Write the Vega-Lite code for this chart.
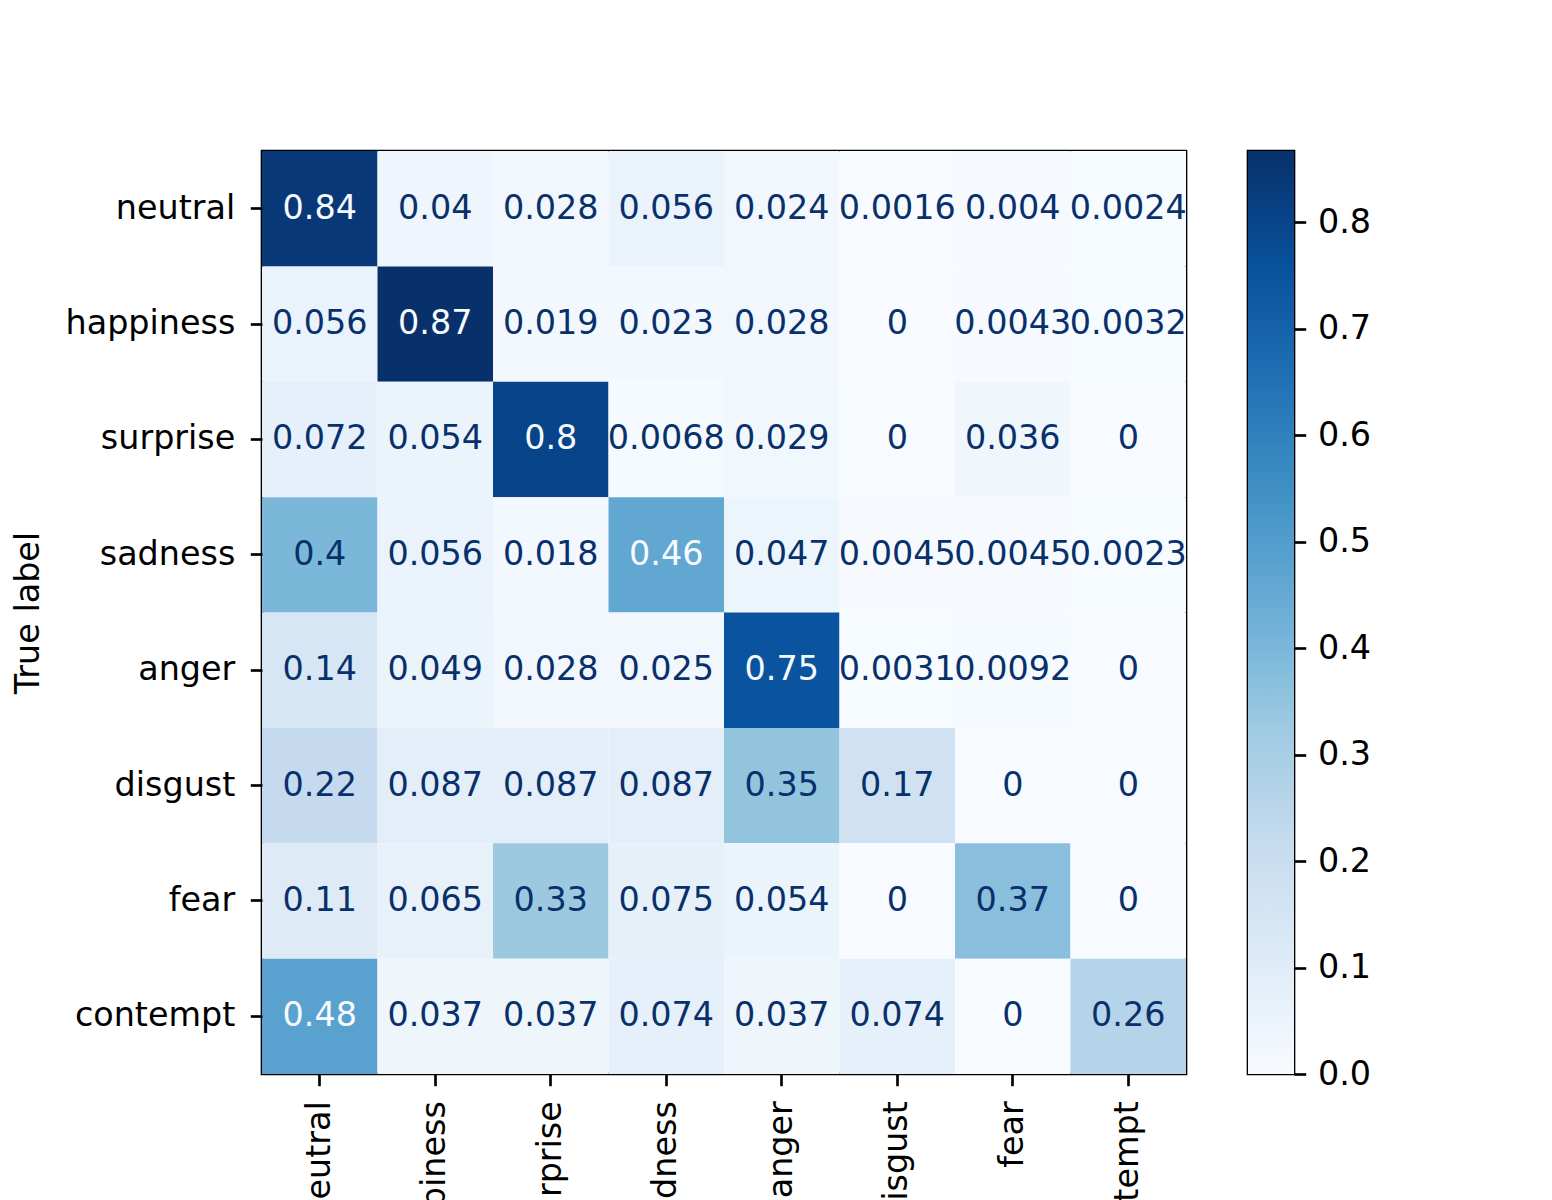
{
  "$schema": "https://vega.github.io/schema/vega-lite/v6.json",
  "background": "white",
  "padding": {"left": 9, "top": 149, "right": 0, "bottom": 0},
  "spacing": 57,
  "config": {
    "font": "DejaVu Sans",
    "view": {"stroke": "black", "strokeWidth": 2.67},
    "axis": {
      "labelFont": "DejaVu Sans",
      "titleFont": "DejaVu Sans",
      "labelFontSize": 33.4,
      "titleFontSize": 33.4,
      "titleFontWeight": "normal",
      "labelColor": "black",
      "titleColor": "black",
      "tickColor": "black",
      "tickWidth": 2.67,
      "tickSize": 11.7,
      "domain": false,
      "grid": false,
      "labelOverlap": false,
      "labelBound": false,
      "labelFlush": false
    }
  },
  "hconcat": [
    {
      "width": 924,
      "height": 923,
      "data": {
        "values": [
          {"t": "neutral", "p": "neutral", "v": 0.84},
          {"t": "neutral", "p": "happiness", "v": 0.04},
          {"t": "neutral", "p": "surprise", "v": 0.028},
          {"t": "neutral", "p": "sadness", "v": 0.056},
          {"t": "neutral", "p": "anger", "v": 0.024},
          {"t": "neutral", "p": "disgust", "v": 0.0016},
          {"t": "neutral", "p": "fear", "v": 0.004},
          {"t": "neutral", "p": "contempt", "v": 0.0024},
          {"t": "happiness", "p": "neutral", "v": 0.056},
          {"t": "happiness", "p": "happiness", "v": 0.867},
          {"t": "happiness", "p": "surprise", "v": 0.019},
          {"t": "happiness", "p": "sadness", "v": 0.023},
          {"t": "happiness", "p": "anger", "v": 0.028},
          {"t": "happiness", "p": "disgust", "v": 0},
          {"t": "happiness", "p": "fear", "v": 0.0043},
          {"t": "happiness", "p": "contempt", "v": 0.0032},
          {"t": "surprise", "p": "neutral", "v": 0.072},
          {"t": "surprise", "p": "happiness", "v": 0.054},
          {"t": "surprise", "p": "surprise", "v": 0.8},
          {"t": "surprise", "p": "sadness", "v": 0.0068},
          {"t": "surprise", "p": "anger", "v": 0.029},
          {"t": "surprise", "p": "disgust", "v": 0},
          {"t": "surprise", "p": "fear", "v": 0.036},
          {"t": "surprise", "p": "contempt", "v": 0},
          {"t": "sadness", "p": "neutral", "v": 0.4},
          {"t": "sadness", "p": "happiness", "v": 0.056},
          {"t": "sadness", "p": "surprise", "v": 0.018},
          {"t": "sadness", "p": "sadness", "v": 0.46},
          {"t": "sadness", "p": "anger", "v": 0.047},
          {"t": "sadness", "p": "disgust", "v": 0.0045},
          {"t": "sadness", "p": "fear", "v": 0.0045},
          {"t": "sadness", "p": "contempt", "v": 0.0023},
          {"t": "anger", "p": "neutral", "v": 0.14},
          {"t": "anger", "p": "happiness", "v": 0.049},
          {"t": "anger", "p": "surprise", "v": 0.028},
          {"t": "anger", "p": "sadness", "v": 0.025},
          {"t": "anger", "p": "anger", "v": 0.75},
          {"t": "anger", "p": "disgust", "v": 0.0031},
          {"t": "anger", "p": "fear", "v": 0.0092},
          {"t": "anger", "p": "contempt", "v": 0},
          {"t": "disgust", "p": "neutral", "v": 0.22},
          {"t": "disgust", "p": "happiness", "v": 0.087},
          {"t": "disgust", "p": "surprise", "v": 0.087},
          {"t": "disgust", "p": "sadness", "v": 0.087},
          {"t": "disgust", "p": "anger", "v": 0.35},
          {"t": "disgust", "p": "disgust", "v": 0.17},
          {"t": "disgust", "p": "fear", "v": 0},
          {"t": "disgust", "p": "contempt", "v": 0},
          {"t": "fear", "p": "neutral", "v": 0.11},
          {"t": "fear", "p": "happiness", "v": 0.065},
          {"t": "fear", "p": "surprise", "v": 0.33},
          {"t": "fear", "p": "sadness", "v": 0.075},
          {"t": "fear", "p": "anger", "v": 0.054},
          {"t": "fear", "p": "disgust", "v": 0},
          {"t": "fear", "p": "fear", "v": 0.37},
          {"t": "fear", "p": "contempt", "v": 0},
          {"t": "contempt", "p": "neutral", "v": 0.48},
          {"t": "contempt", "p": "happiness", "v": 0.037},
          {"t": "contempt", "p": "surprise", "v": 0.037},
          {"t": "contempt", "p": "sadness", "v": 0.074},
          {"t": "contempt", "p": "anger", "v": 0.037},
          {"t": "contempt", "p": "disgust", "v": 0.074},
          {"t": "contempt", "p": "fear", "v": 0},
          {"t": "contempt", "p": "contempt", "v": 0.26}
        ]
      },
      "encoding": {
        "x": {
          "field": "p",
          "type": "nominal",
          "sort": ["neutral", "happiness", "surprise", "sadness", "anger", "disgust", "fear", "contempt"],
          "scale": {"paddingInner": 0, "paddingOuter": 0},
          "axis": {"orient": "bottom", "title": "Predicted label", "labelAngle": -90, "labelAlign": "right", "labelBaseline": "middle", "labelPadding": 15}
        },
        "y": {
          "field": "t",
          "type": "nominal",
          "sort": ["neutral", "happiness", "surprise", "sadness", "anger", "disgust", "fear", "contempt"],
          "scale": {"paddingInner": 0, "paddingOuter": 0},
          "axis": {"orient": "left", "title": "True label", "labelPadding": 15.5, "titlePadding": 20}
        }
      },
      "layer": [
        {
          "mark": {"type": "rect"},
          "encoding": {
            "color": {
              "field": "v",
              "type": "quantitative",
              "scale": {
                "domain": [0, 0.108338, 0.216675, 0.325013, 0.43335, 0.541688, 0.650025, 0.758363, 0.8667],
                "range": ["#f7fbff", "#deebf7", "#c6dbef", "#9ecae1", "#6baed6", "#4292c6", "#2171b5", "#08519c", "#08306b"],
                "interpolate": "rgb",
                "clamp": true
              },
              "legend": null
            }
          }
        },
        {
          "mark": {"type": "text", "fontSize": 33.4, "font": "DejaVu Sans", "baseline": "middle", "align": "center"},
          "encoding": {
            "text": {"field": "v", "type": "quantitative", "format": ".2~g"},
            "color": {"condition": {"test": "datum.v > 0.43335", "value": "#f7fbff"}, "value": "#08306b"}
          }
        }
      ]
    },
    {
      "width": 46,
      "height": 923,
      "data": {"values": [{"lo": 0, "hi": 0.8667}]},
      "mark": {
        "type": "rect",
        "fill": {
          "gradient": "linear",
          "x1": 0, "y1": 1, "x2": 0, "y2": 0,
          "stops": [
            {"offset": 0, "color": "#f7fbff"},
            {"offset": 0.125, "color": "#deebf7"},
            {"offset": 0.25, "color": "#c6dbef"},
            {"offset": 0.375, "color": "#9ecae1"},
            {"offset": 0.5, "color": "#6baed6"},
            {"offset": 0.625, "color": "#4292c6"},
            {"offset": 0.75, "color": "#2171b5"},
            {"offset": 0.875, "color": "#08519c"},
            {"offset": 1, "color": "#08306b"}
          ]
        }
      },
      "encoding": {
        "x": {"value": 0},
        "x2": {"value": "width"},
        "y": {
          "field": "lo",
          "type": "quantitative",
          "scale": {"domain": [0, 0.8667], "nice": false, "zero": true},
          "axis": {"orient": "right", "title": null, "values": [0, 0.1, 0.2, 0.3, 0.4, 0.5, 0.6, 0.7, 0.8], "format": ".1f", "labelPadding": 11.7, "labelBaseline": "middle"}
        },
        "y2": {"field": "hi"}
      }
    }
  ]
}
